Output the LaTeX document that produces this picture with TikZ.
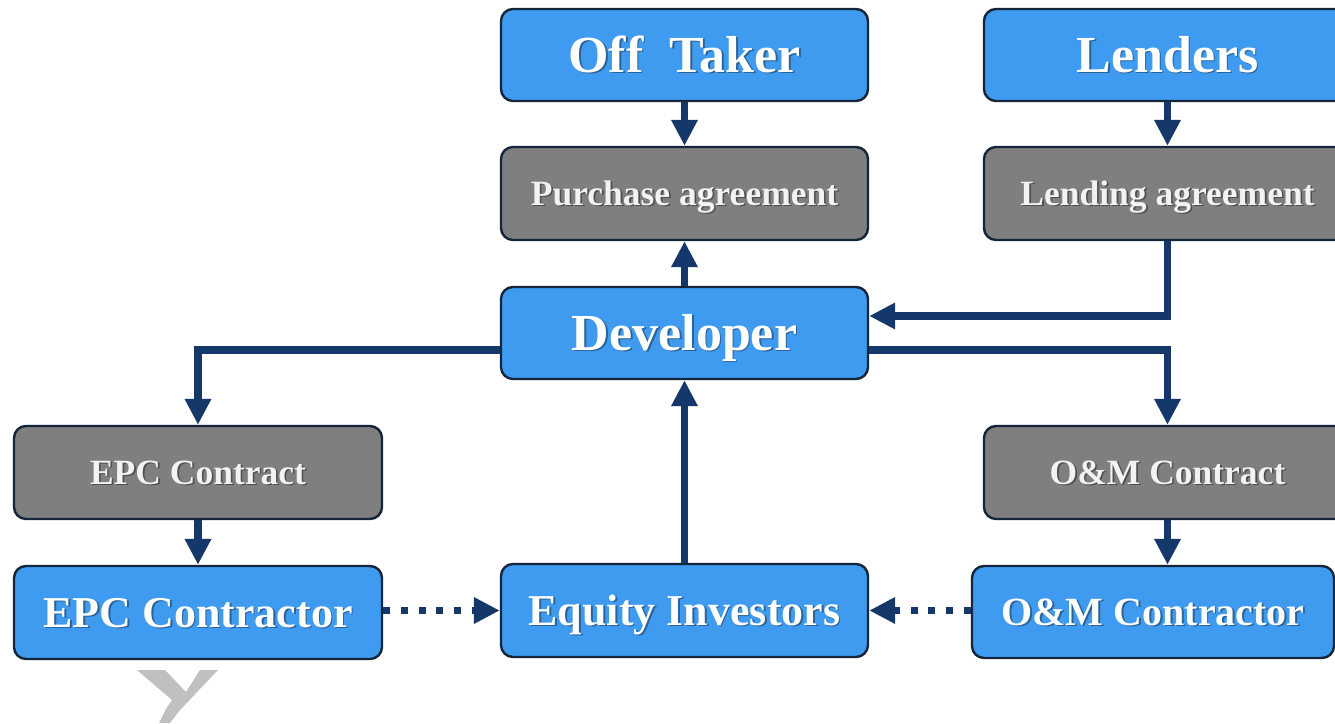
\documentclass[tikz,border=0pt]{standalone}
\usepackage{fontspec}
\setmainfont{Liberation Serif}
\usetikzlibrary{arrows.meta}

\definecolor{boxblue}{HTML}{3E9BF0}
\definecolor{boxgray}{HTML}{7F7F7F}
\definecolor{boxline}{HTML}{16263A}
\definecolor{linknavy}{HTML}{15386A}
\definecolor{shblue}{HTML}{2A6399}
\definecolor{shgray}{HTML}{4E4E4E}
\definecolor{markgray}{HTML}{C0C0C0}

% white text with a soft offset shadow
\newcommand\txtsh[2]{\leavevmode\rlap{\kern1.6pt\raisebox{-1.6pt}{\textcolor{#1}{#2}}}#2}

\tikzset{
  card/.style={draw=boxline, line width=2.4pt, rounded corners=12pt,
    minimum width=367pt, minimum height=92pt, inner sep=0pt, text=white,
    text depth=0pt},
  party/.style={card, fill=boxblue},
  deal/.style={card, fill=boxgray, text=white!95!black},
  bigfont/.style={font=\fontsize{52}{60}\selectfont\bfseries, text height=34pt},
  midfont/.style={font=\fontsize{44}{52}\selectfont\bfseries, text height=29pt},
  narrowfont/.style={font=\fontsize{40}{48}\selectfont\bfseries, text height=26.4pt},
  smallfont/.style={font=\fontsize{35.5}{42}\selectfont\bfseries, text height=23.4pt},
  link/.style={draw=linknavy, line width=7.5pt,
    -{Triangle[length=26pt,width=25pt]}},
  dotlink/.style={link, line width=7pt, dash pattern=on 7pt off 10.7pt}
}

\begin{document}
\begin{tikzpicture}[x=1pt, y=-1pt]
  \clip (0,0) rectangle (1335,723);
  \fill[white] (0,0) rectangle (1335,723);

  % top row: parties and their agreements
  \node[party, bigfont] (offtaker) at (684.5,55) {\txtsh{shblue}{Off~ Taker}};
  \node[deal, smallfont, minimum height=93pt] (purchase) at (684.5,193.5) {\txtsh{shgray}{Purchase agreement}};
  \node[party, bigfont] (lenders) at (1167.5,55) {\txtsh{shblue}{Lenders}};
  \node[deal, smallfont, minimum height=93pt] (lending) at (1167.5,193.5) {\txtsh{shgray}{Lending agreement}};

  % centre
  \node[party, bigfont] (developer) at (684.5,333) {\txtsh{shblue}{Developer}};

  % contracts
  \node[deal, smallfont, minimum width=368pt, minimum height=93pt] (epccontract) at (198,472.5) {\txtsh{shgray}{EPC Contract}};
  \node[deal, smallfont, minimum height=93pt] (omcontract) at (1167.5,472.5) {\txtsh{shgray}{O\&M Contract}};

  % bottom row
  \node[party, midfont, minimum width=368pt, minimum height=93pt] (epcctr) at (198,612.5) {\txtsh{shblue}{EPC Contractor}};
  \node[party, midfont, minimum height=93pt] (equity) at (684.5,610.5) {\txtsh{shblue}{Equity Investors}};
  \node[party, narrowfont, minimum width=362pt] (omctr) at (1153,612) {\txtsh{shblue}{O\&M Contractor}};

  % connectors
  \draw[link] (offtaker) -- (purchase);
  \draw[link] (developer) -- (purchase);
  \draw[link] (lenders) -- (lending);
  \draw[link] (lending.south) |- ([yshift=17pt]developer.east);
  \draw[link] ([yshift=-17pt]developer.west) -| (epccontract.north);
  \draw[link] ([yshift=-17pt]developer.east) -| (omcontract.north);
  \draw[link] (epccontract) -- (epcctr);
  \draw[link] (omcontract.south) -- (omcontract.south |- omctr.north);
  \draw[link] (equity) -- (developer);
  \draw[dotlink] (epcctr.east |- equity.west) -- (equity.west);
  \draw[dotlink] (omctr.west |- equity.east) -- (equity.east);

  % grey mark below the left column
  \fill[markgray] (137,670) -- (165,670) -- (186,692) -- (200,670) -- (218,670)
    -- (180,710) -- (170,723) -- (159,723) -- (166,709) -- (172,700) -- cycle;
\end{tikzpicture}
\end{document}
